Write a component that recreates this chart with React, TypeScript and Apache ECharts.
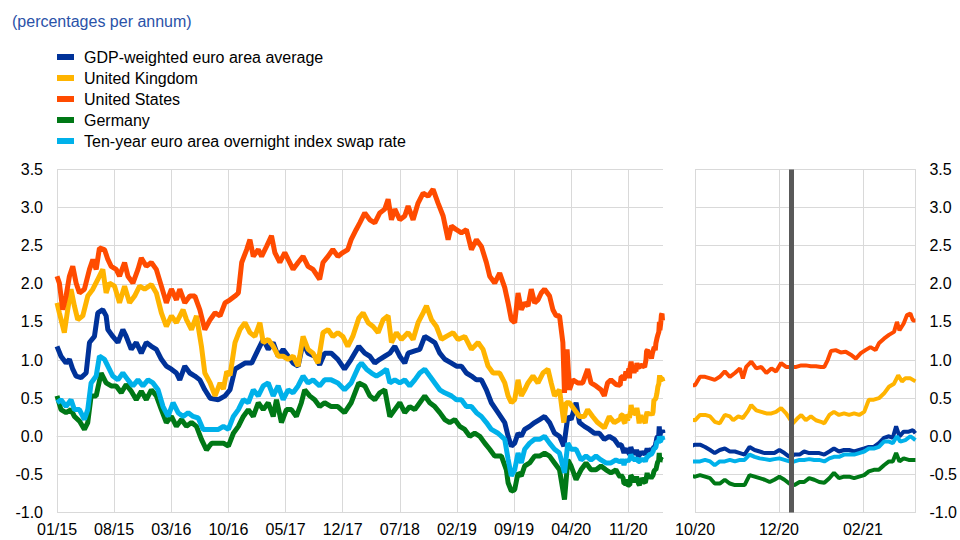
import React, { useEffect, useRef } from 'react';
import * as echarts from 'echarts';

// x values are months since January 2015 (0 = 01/15, 70 = 11/20)
const seriesNames = [
  'GDP-weighted euro area average',
  'United Kingdom',
  'United States',
  'Germany',
  'Ten-year euro area overnight index swap rate',
];
const seriesColors = ['#003299', '#FFB400', '#FF4B00', '#007816', '#00B1EA'];

const yTicks = { min: -1, max: 3.5, interval: 0.5 };
const leftRange = { min: 0, max: 74.25, interval: 7 };
const rightRange = { min: 69, max: 74.25, interval: 2 };
const markerMonth = 71.29;

const gdpWeighted: [number, number][] = [
  [0, 1.18], [0.49, 1.05], [1.11, 0.96], [1.52, 1.01], [1.93, 0.88], [2.34, 0.79], [2.95, 0.77], [3.57, 0.83], [3.98, 1.23], [4.59, 1.31], [5.0, 1.62], [5.61, 1.66], [6.02, 1.58], [6.23, 1.4], [6.84, 1.31], [7.46, 1.23], [8.07, 1.4], [8.48, 1.31], [9.1, 1.14], [9.71, 1.23], [10.33, 1.09], [10.94, 1.23], [11.56, 1.18], [12.17, 1.14], [12.79, 1.01], [13.4, 0.92], [14.02, 0.88], [14.63, 0.83], [15.04, 0.74], [15.66, 0.92], [16.27, 0.83], [16.89, 0.79], [17.5, 0.74], [18.11, 0.61],
  [18.76, 0.5], [19.78, 0.48], [20.59, 0.53], [21.2, 0.61], [21.81, 0.88], [22.42, 0.92], [23.03, 0.96], [23.85, 0.96], [24.66, 1.14], [25.27, 1.27], [25.88, 1.14], [26.49, 1.23], [27.1, 1.05], [27.71, 1.14], [28.32, 1.05], [28.93, 0.96], [29.54, 0.92], [30.15, 1.23], [30.76, 1.09], [31.57, 1.05], [32.18, 0.94], [32.79, 1.09], [33.6, 1.09], [34.41, 1.01], [35.23, 0.88], [36.04, 1.01], [36.98, 1.18],
  [37.71, 1.09], [38.33, 1.05], [38.94, 0.96], [39.55, 1.01], [40.16, 1.05], [40.78, 1.09], [41.39, 1.18], [42.0, 1.05], [42.61, 0.96], [43.02, 1.09], [43.84, 1.12], [44.45, 1.14], [45.06, 1.31], [45.67, 1.27], [46.29, 1.23], [46.9, 1.09], [47.51, 1.01], [48.33, 0.96], [48.94, 0.92], [49.55, 0.92], [50.16, 0.83], [50.78, 0.79], [51.39, 0.74], [52.0, 0.74], [52.61, 0.61], [53.22, 0.44], [54.04, 0.31], [54.86, 0.18], [55.27, 0.0],
  [55.67, -0.13], [56.08, -0.09], [56.49, 0.04], [56.89, 0.0], [57.3, 0.09], [57.91, 0.13], [58.52, 0.18], [59.13, 0.22], [59.74, 0.26], [60.35, 0.18], [60.96, 0.04], [61.57, 0.0], [62.1, -0.13], [62.59, 0.26], [62.99, 0.22], [63.6, 0.44], [64.01, 0.18], [64.62, 0.13], [65.23, 0.09], [65.84, 0.04], [66.45, 0.04], [67.06, -0.04], [67.67, 0.0], [68.28, -0.04], [68.89, -0.13],
  [69.0, -0.11], [69.12, -0.11], [69.24, -0.14], [69.36, -0.18], [69.47, -0.22], [69.59, -0.18], [69.71, -0.16], [69.83, -0.2], [69.95, -0.2], [70.07, -0.22], [70.18, -0.24], [70.3, -0.14], [70.42, -0.18], [70.54, -0.2], [70.66, -0.22], [70.78, -0.22], [70.89, -0.22], [71.01, -0.18], [71.13, -0.22], [71.25, -0.27], [71.37, -0.24], [71.49, -0.24], [71.6, -0.2], [71.72, -0.22], [71.84, -0.22], [71.96, -0.22], [72.08, -0.24], [72.2, -0.2], [72.31, -0.16], [72.43, -0.2], [72.55, -0.18], [72.67, -0.18], [72.79, -0.2], [72.91, -0.18], [73.03, -0.16], [73.14, -0.14], [73.26, -0.14], [73.38, -0.09], [73.5, -0.02], [73.62, 0.0], [73.71, -0.02], [73.79, 0.13], [73.87, 0.0], [73.97, 0.06], [74.09, 0.06], [74.19, 0.08], [74.25, 0.04],
];

const unitedKingdom: [number, number][] = [
  [0, 1.75], [0.29, 1.62], [0.9, 1.36], [1.31, 1.66], [1.72, 1.93], [2.13, 1.71], [2.54, 1.53], [3.16, 1.58], [3.77, 1.84], [4.39, 1.93], [5.0, 2.06], [5.61, 2.19], [6.02, 1.88], [6.43, 2.01], [7.05, 1.97], [7.66, 1.75], [8.28, 1.97], [8.89, 1.75], [9.51, 1.84], [10.12, 1.97], [10.74, 1.93], [11.56, 1.99], [12.17, 1.88], [12.79, 1.62], [13.4, 1.44], [14.02, 1.58], [14.63, 1.49], [15.45, 1.66], [15.86, 1.53], [16.48, 1.4], [17.09, 1.58], [17.7, 1.18], [18.11, 0.83],
  [18.76, 0.7], [19.37, 0.53], [19.98, 0.7], [20.39, 0.62], [20.8, 0.85], [21.2, 0.8], [21.81, 1.23], [22.42, 1.4], [23.03, 1.49], [23.64, 1.36], [24.25, 1.31], [24.86, 1.49], [25.27, 1.23], [25.88, 1.27], [26.49, 1.18], [27.1, 1.05], [27.71, 1.05], [28.32, 1.01], [28.93, 1.05], [29.54, 0.92], [30.15, 1.31], [30.76, 1.14], [31.37, 1.09], [31.98, 0.96], [32.59, 1.36], [33.2, 1.4], [33.8, 1.31], [34.41, 1.36], [35.02, 1.31], [35.63, 1.18], [36.24, 1.31], [36.98, 1.55],
  [37.51, 1.62], [38.12, 1.49], [38.73, 1.44], [39.35, 1.36], [39.96, 1.53], [40.57, 1.58], [40.98, 1.23], [41.59, 1.36], [42.2, 1.27], [43.02, 1.36], [43.63, 1.27], [44.24, 1.49], [44.86, 1.62], [45.27, 1.71], [45.88, 1.53], [46.49, 1.44], [47.1, 1.27], [47.71, 1.31], [48.53, 1.36], [49.14, 1.27], [49.96, 1.31], [50.78, 1.14], [51.59, 1.23], [52.2, 1.14], [52.82, 0.92], [53.43, 0.83], [54.24, 0.83], [54.86, 0.7], [55.27, 0.53],
  [55.67, 0.44], [56.08, 0.48], [56.49, 0.74], [56.89, 0.53], [57.3, 0.61], [57.71, 0.7], [58.32, 0.79], [58.93, 0.7], [59.54, 0.83], [60.15, 0.88], [60.55, 0.7], [60.96, 0.53], [61.57, 0.61], [62.1, 0.18], [62.38, 0.44], [62.79, 0.44], [63.4, 0.35], [64.01, 0.26], [64.62, 0.26], [65.02, 0.35], [65.63, 0.26], [66.24, 0.18], [67.06, 0.11], [67.67, 0.26], [68.28, 0.18], [68.89, 0.22],
  [69.0, 0.21], [69.12, 0.28], [69.24, 0.28], [69.36, 0.26], [69.47, 0.19], [69.59, 0.17], [69.71, 0.28], [69.83, 0.26], [69.91, 0.21], [70.03, 0.26], [70.14, 0.24], [70.26, 0.33], [70.34, 0.41], [70.46, 0.34], [70.58, 0.32], [70.7, 0.3], [70.82, 0.3], [70.93, 0.32], [71.05, 0.37], [71.17, 0.3], [71.33, 0.17], [71.45, 0.24], [71.53, 0.28], [71.64, 0.21], [71.76, 0.26], [71.88, 0.21], [72.0, 0.19], [72.08, 0.17], [72.2, 0.28], [72.31, 0.32], [72.43, 0.28], [72.55, 0.3], [72.67, 0.28], [72.79, 0.3], [72.91, 0.28], [73.03, 0.32], [73.14, 0.48], [73.26, 0.48], [73.38, 0.5], [73.5, 0.56], [73.62, 0.65], [73.74, 0.69], [73.84, 0.8], [73.93, 0.72], [74.01, 0.76], [74.13, 0.76], [74.25, 0.72],
];

const unitedStates: [number, number][] = [
  [0, 2.1], [0.29, 2.01], [0.7, 1.66], [1.11, 1.84], [1.52, 2.1], [1.93, 2.23], [2.34, 2.01], [2.75, 1.88], [3.36, 1.93], [3.98, 2.19], [4.39, 2.32], [4.8, 2.19], [5.2, 2.47], [5.82, 2.45], [6.23, 2.32], [6.64, 2.23], [7.25, 2.19], [7.66, 2.1], [8.28, 2.28], [8.69, 2.1], [9.3, 2.01], [9.92, 2.19], [10.33, 2.34], [10.94, 2.23], [11.56, 2.28], [12.17, 2.19], [12.79, 1.97], [13.4, 1.75], [14.02, 1.93], [14.63, 1.79], [15.04, 1.93], [15.66, 1.75], [16.27, 1.84], [16.89, 1.84], [17.5, 1.66], [18.11, 1.4],
  [18.76, 1.53], [19.37, 1.62], [19.98, 1.58], [20.59, 1.75], [21.2, 1.79], [21.81, 1.84], [22.22, 1.88], [22.63, 2.28], [23.24, 2.45], [23.64, 2.58], [24.05, 2.36], [24.66, 2.45], [25.07, 2.36], [25.67, 2.49], [26.28, 2.63], [26.69, 2.41], [27.3, 2.28], [27.91, 2.41], [28.32, 2.32], [28.93, 2.19], [29.54, 2.28], [30.15, 2.36], [30.76, 2.23], [31.37, 2.19], [32.18, 2.06], [32.59, 2.28], [33.2, 2.36], [33.8, 2.45], [34.41, 2.36], [35.02, 2.41], [35.63, 2.45], [36.04, 2.58], [36.65, 2.71],
  [37.1, 2.8], [37.71, 2.93], [38.33, 2.84], [38.94, 2.8], [39.55, 2.93], [40.16, 2.98], [40.57, 3.11], [40.98, 2.84], [41.39, 2.98], [42.0, 2.84], [42.61, 2.89], [43.02, 3.02], [43.63, 2.84], [44.24, 3.06], [44.86, 3.19], [45.47, 3.15], [46.08, 3.24], [46.69, 3.06], [47.31, 2.89], [47.92, 2.58], [48.33, 2.76], [48.94, 2.71], [49.55, 2.67], [50.16, 2.71], [50.78, 2.45], [51.39, 2.58], [52.0, 2.49], [52.61, 2.28], [53.02, 2.1], [53.63, 2.01], [54.24, 2.14], [54.86, 1.95], [55.27, 1.75],
  [55.67, 1.53], [56.08, 1.49], [56.49, 1.88], [56.89, 1.66], [57.3, 1.75], [57.71, 1.71], [58.11, 1.93], [58.52, 1.75], [58.93, 1.79], [59.33, 1.88], [59.74, 1.93], [60.35, 1.84], [60.76, 1.66], [61.16, 1.58], [61.57, 1.58], [61.98, 1.23], [62.18, 0.57], [62.5, 1.14], [62.79, 0.61], [63.2, 0.74], [63.8, 0.7], [64.41, 0.7], [65.02, 0.88], [65.43, 0.7], [66.04, 0.66], [66.65, 0.61], [67.06, 0.53], [67.46, 0.7], [67.87, 0.74], [68.48, 0.68],
  [69.0, 0.67], [69.12, 0.78], [69.24, 0.78], [69.36, 0.76], [69.47, 0.74], [69.59, 0.78], [69.71, 0.85], [69.83, 0.78], [69.95, 0.83], [70.07, 0.89], [70.14, 0.76], [70.22, 0.91], [70.34, 0.98], [70.46, 0.89], [70.58, 0.91], [70.7, 0.83], [70.82, 0.89], [70.93, 0.85], [71.05, 0.96], [71.17, 0.91], [71.29, 0.91], [71.41, 0.91], [71.53, 0.93], [71.64, 0.93], [71.76, 0.92], [71.88, 0.92], [72.0, 0.91], [72.08, 0.91], [72.16, 1.0], [72.24, 1.12], [72.35, 1.13], [72.47, 1.1], [72.59, 1.11], [72.71, 1.07], [72.83, 1.02], [72.95, 1.09], [73.06, 1.13], [73.18, 1.17], [73.3, 1.13], [73.38, 1.22], [73.5, 1.28], [73.62, 1.33], [73.74, 1.37], [73.81, 1.5], [73.87, 1.39], [73.97, 1.48], [74.05, 1.59], [74.13, 1.61], [74.19, 1.52], [74.25, 1.52],
];

const germany: [number, number][] = [
  [0, 0.53], [0.49, 0.35], [1.11, 0.31], [1.72, 0.35], [2.13, 0.26], [2.75, 0.2], [3.36, 0.09], [3.77, 0.18], [4.18, 0.53], [4.8, 0.53], [5.41, 0.83], [6.02, 0.7], [6.64, 0.66], [7.25, 0.66], [7.87, 0.57], [8.48, 0.68], [9.1, 0.59], [9.71, 0.48], [10.33, 0.59], [10.94, 0.48], [11.56, 0.61], [12.17, 0.53], [12.79, 0.35], [13.4, 0.18], [14.02, 0.26], [14.63, 0.13], [15.25, 0.22], [15.86, 0.13], [16.48, 0.18], [17.09, 0.13], [17.7, -0.04], [18.32, -0.18], [18.65, -0.13],
  [18.97, -0.09], [19.78, -0.09], [20.39, -0.09], [21.0, -0.13], [21.61, 0.04], [22.22, 0.13], [22.83, 0.26], [23.44, 0.35], [24.05, 0.26], [24.66, 0.44], [25.27, 0.35], [25.88, 0.44], [26.49, 0.26], [26.89, 0.48], [27.5, 0.18], [28.11, 0.35], [28.72, 0.35], [29.33, 0.26], [29.94, 0.44], [30.35, 0.61], [30.96, 0.53], [31.57, 0.48], [32.18, 0.39], [32.79, 0.44], [33.6, 0.39], [34.41, 0.39], [35.23, 0.31], [36.04, 0.44], [36.98, 0.7],
  [37.71, 0.66], [38.33, 0.53], [38.94, 0.48], [39.55, 0.57], [40.16, 0.61], [40.78, 0.26], [41.39, 0.35], [42.0, 0.44], [42.61, 0.31], [43.22, 0.39], [43.84, 0.35], [44.45, 0.44], [45.06, 0.53], [45.67, 0.44], [46.29, 0.39], [46.9, 0.31], [47.51, 0.22], [48.12, 0.18], [48.73, 0.22], [49.35, 0.13], [49.96, 0.09], [50.57, 0.0], [51.18, 0.04], [51.8, 0.0], [52.41, -0.09], [53.02, -0.17], [53.63, -0.26], [54.45, -0.26], [55.06, -0.44],
  [55.27, -0.61], [55.67, -0.72], [56.08, -0.7], [56.49, -0.48], [56.89, -0.52], [57.3, -0.39], [57.91, -0.35], [58.52, -0.26], [59.13, -0.26], [59.74, -0.22], [60.35, -0.26], [60.96, -0.35], [61.57, -0.44], [62.18, -0.83], [62.59, -0.31], [62.99, -0.39], [63.6, -0.57], [64.21, -0.44], [64.82, -0.35], [65.43, -0.44], [66.04, -0.44], [66.65, -0.39], [67.26, -0.44], [67.87, -0.48], [68.48, -0.44], [68.89, -0.52],
  [69.0, -0.53], [69.12, -0.51], [69.24, -0.53], [69.36, -0.55], [69.47, -0.62], [69.59, -0.62], [69.71, -0.57], [69.83, -0.62], [69.95, -0.64], [70.07, -0.64], [70.18, -0.64], [70.3, -0.51], [70.42, -0.53], [70.54, -0.55], [70.66, -0.57], [70.78, -0.6], [70.89, -0.57], [71.01, -0.53], [71.13, -0.57], [71.25, -0.62], [71.37, -0.64], [71.49, -0.6], [71.6, -0.6], [71.72, -0.55], [71.84, -0.57], [71.96, -0.6], [72.08, -0.61], [72.2, -0.55], [72.31, -0.48], [72.43, -0.55], [72.55, -0.53], [72.67, -0.53], [72.79, -0.55], [72.91, -0.53], [73.03, -0.51], [73.14, -0.46], [73.26, -0.44], [73.38, -0.44], [73.5, -0.38], [73.62, -0.33], [73.71, -0.33], [73.79, -0.22], [73.87, -0.33], [73.97, -0.29], [74.09, -0.31], [74.19, -0.31], [74.25, -0.31],
];

const oisRate: [number, number][] = [
  [0, 0.44], [0.49, 0.48], [1.11, 0.39], [1.72, 0.48], [2.13, 0.35], [2.75, 0.35], [3.36, 0.22], [3.77, 0.35], [4.18, 0.7], [4.8, 0.79], [5.2, 1.05], [5.82, 1.01], [6.23, 0.92], [6.84, 0.79], [7.46, 0.74], [8.07, 0.83], [8.69, 0.74], [9.3, 0.66], [9.92, 0.74], [10.53, 0.66], [11.15, 0.74], [11.76, 0.7], [12.38, 0.61], [12.99, 0.39], [13.61, 0.26], [14.22, 0.44], [14.84, 0.31], [15.45, 0.26], [16.07, 0.31], [16.68, 0.26], [17.3, 0.24], [17.91, 0.09], [18.52, 0.09],
  [18.97, 0.09], [19.78, 0.09], [20.39, 0.13], [21.0, 0.09], [21.61, 0.26], [22.22, 0.35], [22.83, 0.48], [23.44, 0.44], [24.05, 0.61], [24.66, 0.53], [25.27, 0.66], [25.88, 0.7], [26.49, 0.53], [27.1, 0.66], [27.71, 0.48], [28.32, 0.61], [28.93, 0.57], [29.54, 0.66], [30.15, 0.79], [30.76, 0.7], [31.37, 0.74], [32.18, 0.66], [32.79, 0.74], [33.6, 0.74], [34.41, 0.7], [35.23, 0.61], [36.04, 0.7], [36.98, 0.92],
  [37.31, 0.96], [37.92, 0.88], [38.53, 0.83], [39.14, 0.79], [39.76, 0.83], [40.37, 0.88], [40.78, 0.7], [41.39, 0.74], [42.0, 0.7], [42.61, 0.74], [43.22, 0.66], [43.84, 0.74], [44.45, 0.83], [45.06, 0.88], [45.67, 0.79], [46.29, 0.7], [46.9, 0.61], [47.51, 0.57], [48.33, 0.53], [48.94, 0.48], [49.55, 0.48], [50.16, 0.39], [50.78, 0.39], [51.39, 0.31], [52.0, 0.26], [52.61, 0.18], [53.22, 0.09], [54.04, 0.04], [54.86, -0.04], [55.27, -0.3],
  [55.67, -0.52], [56.08, -0.44], [56.49, -0.22], [56.89, -0.35], [57.3, -0.17], [57.91, -0.09], [58.52, -0.04], [59.13, -0.04], [59.74, 0.0], [60.35, -0.09], [60.96, -0.17], [61.57, -0.22], [62.18, -0.48], [62.59, -0.09], [62.99, -0.17], [63.6, -0.17], [64.21, -0.31], [64.82, -0.26], [65.43, -0.31], [66.04, -0.26], [66.65, -0.31], [67.26, -0.35], [67.87, -0.35], [68.48, -0.31], [68.89, -0.33],
  [69.0, -0.33], [69.12, -0.33], [69.24, -0.31], [69.36, -0.33], [69.47, -0.38], [69.59, -0.33], [69.71, -0.33], [69.83, -0.31], [69.95, -0.33], [70.07, -0.31], [70.18, -0.31], [70.3, -0.24], [70.42, -0.27], [70.54, -0.29], [70.66, -0.3], [70.78, -0.31], [70.89, -0.3], [71.01, -0.29], [71.13, -0.31], [71.25, -0.33], [71.37, -0.33], [71.49, -0.31], [71.6, -0.31], [71.72, -0.3], [71.84, -0.31], [71.96, -0.31], [72.08, -0.33], [72.2, -0.29], [72.31, -0.27], [72.43, -0.27], [72.55, -0.24], [72.67, -0.24], [72.79, -0.24], [72.91, -0.22], [73.03, -0.2], [73.14, -0.16], [73.26, -0.16], [73.38, -0.14], [73.5, -0.07], [73.62, -0.07], [73.71, -0.09], [73.81, 0.0], [73.89, -0.07], [74.01, -0.05], [74.13, 0.0], [74.25, -0.05],
];

const seriesData = [gdpWeighted, unitedKingdom, unitedStates, germany, oisRate];

const FONT = '"Liberation Sans", Arial, Helvetica, sans-serif';

function monthLabel(v: number): string {
  if (!Number.isInteger(v)) return '';
  const m = (v % 12) + 1;
  const y = 15 + Math.floor(v / 12);
  return (m < 10 ? '0' + m : '' + m) + '/' + y;
}

export default function App() {
  const ref = useRef<HTMLDivElement>(null);
  useEffect(() => {
    if (!ref.current) return;
    const chart = echarts.init(ref.current, null, { renderer: 'svg' });
    const gridColor = '#d9d9d9';
    const labelStyle = { fontSize: 16, color: '#000', fontFamily: FONT };

    const makeX = (gridIndex: number, r: { min: number; max: number; interval: number }, isLeft: boolean) => ({
      type: 'value',
      gridIndex,
      min: r.min,
      max: r.max,
      interval: r.interval,
      axisLine: { show: true, lineStyle: { color: gridColor, width: 1 } },
      axisTick: { show: false },
      splitLine: { show: true, showMaxLine: !isLeft, lineStyle: { color: gridColor, width: 1 } },
      axisLabel: {
        ...labelStyle,
        margin: 9,
        showMaxLabel: false,
        hideOverlap: false,
        formatter: (v: number) => {
          if (!Number.isInteger(v)) return '';
          if ((v - r.min) % r.interval !== 0) return '';
          return monthLabel(v);
        },
      },
    });
    const makeY = (gridIndex: number, position: string) => ({
      type: 'value',
      gridIndex,
      position,
      min: yTicks.min,
      max: yTicks.max,
      interval: yTicks.interval,
      axisLine: { show: true, lineStyle: { color: gridColor, width: 1 } },
      axisTick: { show: false },
      splitLine: { show: true, lineStyle: { color: gridColor, width: 1 } },
      axisLabel: { ...labelStyle, margin: 14, formatter: (v: number) => v.toFixed(1) },
    });

    const series: any[] = [];
    seriesNames.forEach((name, i) => {
      series.push({
        type: 'line',
        name,
        xAxisIndex: 0,
        yAxisIndex: 0,
        data: seriesData[i],
        showSymbol: false,
        symbol: 'none',
        clip: true,
        lineStyle: { width: 5, color: seriesColors[i] },
        itemStyle: { color: seriesColors[i] },
      });
    });
    seriesNames.forEach((name, i) => {
      const s: any = {
        type: 'line',
        name,
        xAxisIndex: 1,
        yAxisIndex: 1,
        data: seriesData[i],
        showSymbol: false,
        symbol: 'none',
        clip: true,
        lineStyle: { width: 4, color: seriesColors[i] },
        itemStyle: { color: seriesColors[i] },
      };
      if (i === seriesNames.length - 1) {
        s.markLine = {
          silent: true,
          symbol: ['none', 'none'],
          label: { show: false },
          lineStyle: { color: '#595959', width: 5, type: 'solid' },
          data: [{ xAxis: markerMonth }],
          z: 10,
        };
      }
      series.push(s);
    });

    chart.setOption({
      animation: false,
      backgroundColor: '#ffffff',
      textStyle: { fontFamily: FONT },
      title: {
        text: '(percentages per annum)',
        left: 12,
        top: 13,
        padding: 0,
        textStyle: { fontSize: 16, fontWeight: 'normal', color: '#2a52a8', fontFamily: FONT },
      },
      legend: {
        orient: 'vertical',
        left: 57,
        top: 49,
        padding: 0,
        itemWidth: 17,
        itemHeight: 6,
        itemGap: 5,
        icon: 'rect',
        selectedMode: false,
        data: seriesNames,
        textStyle: { fontSize: 16, color: '#000', fontFamily: FONT, padding: [0, 0, 0, 5] },
      },
      grid: [
        { left: 57, top: 169.5, width: 606, height: 343, containLabel: false },
        { left: 695, top: 169.5, width: 221, height: 343, containLabel: false },
      ],
      xAxis: [makeX(0, leftRange, true), makeX(1, rightRange, false)],
      yAxis: [makeY(0, 'left'), makeY(1, 'right')],
      series,
    });
    return () => chart.dispose();
  }, []);
  return <div ref={ref} style={{ position: 'fixed', left: 0, top: 0, width: 960, height: 540 }} />;
}
